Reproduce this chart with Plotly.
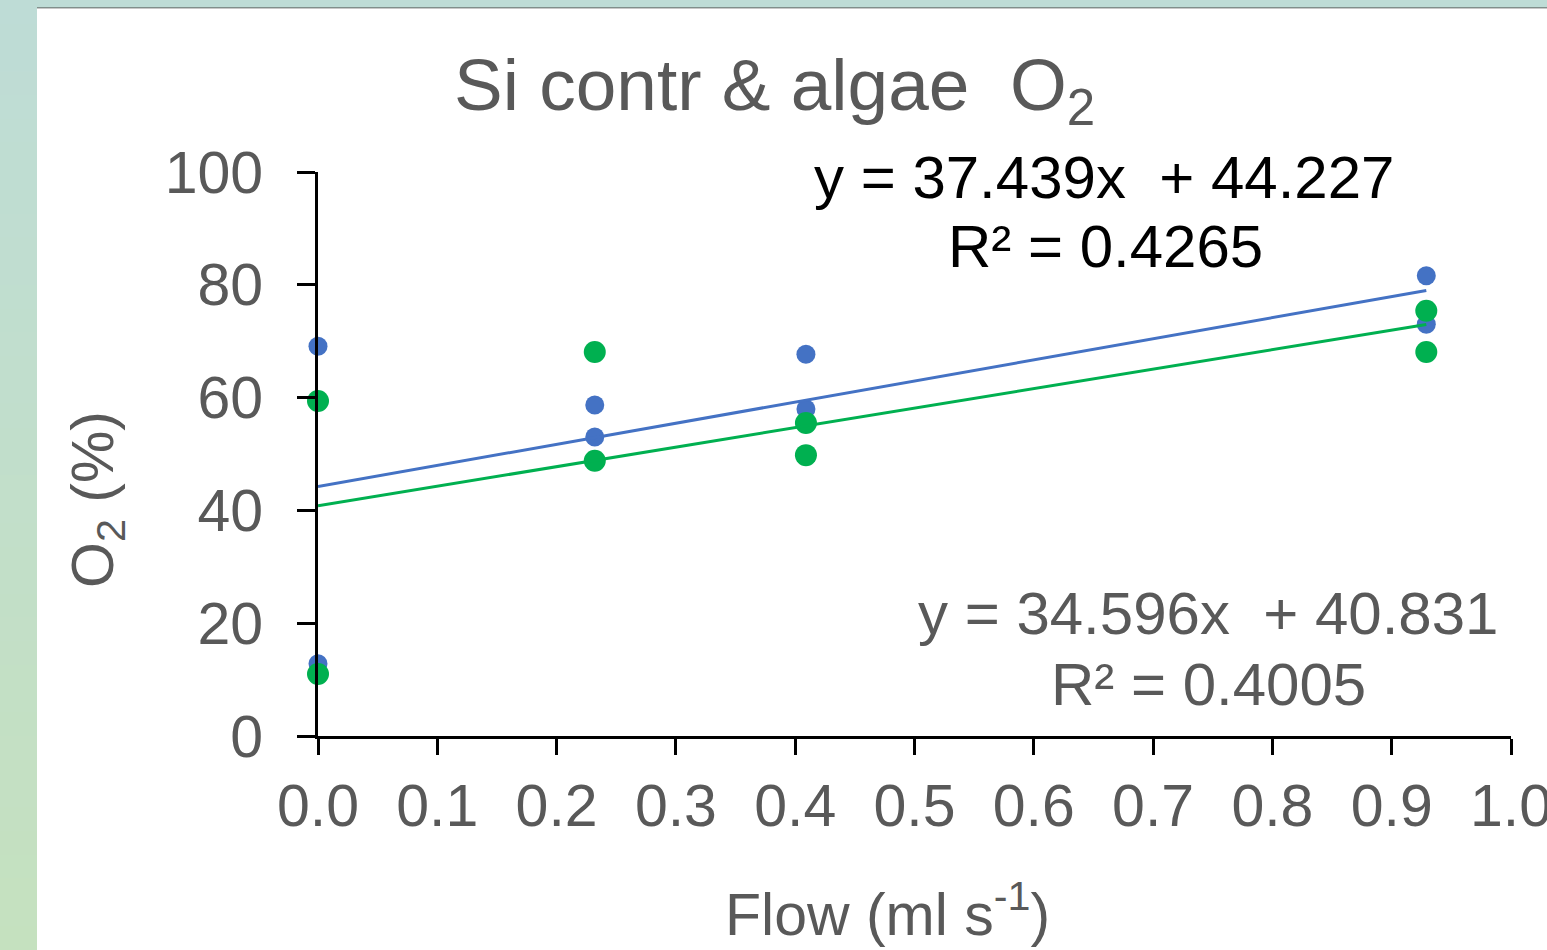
import plotly.graph_objects as go

# ---- data ----
flow_blue = [0.0, 0.0, 0.232, 0.232, 0.409, 0.409, 0.929, 0.929]
o2_blue = [69.1, 12.8, 58.7, 53.0, 67.7, 58.0, 81.6, 73.0]
flow_green = [0.0, 0.0, 0.232, 0.232, 0.409, 0.409, 0.929, 0.929]
o2_green = [59.4, 11.0, 68.1, 48.8, 55.5, 49.8, 75.4, 68.1]

trend_slope = [37.439, 34.596]
trend_intercept = [44.227, 40.831]
trend_r2 = [0.4265, 0.4005]
trend_x_range = [0.0, 0.929]

x_ticks = [0.0, 0.1, 0.2, 0.3, 0.4, 0.5, 0.6, 0.7, 0.8, 0.9, 1.0]
y_ticks = [0, 20, 40, 60, 80, 100]

BLUE = "#4472C4"
GREEN = "#00B050"
GRAY = "#595959"
FONT = "Liberation Sans, Arial, sans-serif"

W, H = 1547, 950
L, R, T, B = 318, 1511, 172, 736  # plot area in pixels


def px(x):
    return (x - L) / (R - L)


def py(y):
    return (B - y) / (B - T)


fig = go.Figure()

fig.add_trace(go.Scatter(x=flow_blue, y=o2_blue, mode="markers",
                         marker=dict(color=BLUE, size=19), cliponaxis=False,
                         showlegend=False, hoverinfo="skip"))
fig.add_trace(go.Scatter(x=flow_green, y=o2_green, mode="markers",
                         marker=dict(color=GREEN, size=22), cliponaxis=False,
                         showlegend=False, hoverinfo="skip"))
for m, c, col in zip(trend_slope, trend_intercept, [BLUE, GREEN]):
    fig.add_trace(go.Scatter(x=trend_x_range, y=[m * x + c for x in trend_x_range],
                             mode="lines", line=dict(color=col, width=3),
                             cliponaxis=False, showlegend=False, hoverinfo="skip"))

shapes = []
# left gradient strip
n = 40
c0 = (190, 220, 214)
c1 = (197, 225, 191)
for i in range(n):
    t = i / (n - 1)
    col = "rgb(%d,%d,%d)" % tuple(round(a + (b - a) * t) for a, b in zip(c0, c1))
    y0 = H * i / n
    y1 = H * (i + 1) / n + 1
    shapes.append(dict(type="rect", xref="paper", yref="paper",
                       x0=px(0), x1=px(37), y0=py(y1), y1=py(y0),
                       fillcolor=col, line=dict(width=0), layer="below"))
# top strip
shapes.append(dict(type="rect", xref="paper", yref="paper",
                   x0=px(37), x1=px(W), y0=py(7), y1=py(0),
                   fillcolor="rgb(190,220,214)", line=dict(width=0), layer="below"))
shapes.append(dict(type="rect", xref="paper", yref="paper",
                   x0=px(37), x1=px(W), y0=py(8), y1=py(7),
                   fillcolor="rgb(128,143,139)", line=dict(width=0), layer="below"))
shapes.append(dict(type="rect", xref="paper", yref="paper",
                   x0=px(37), x1=px(W), y0=py(9), y1=py(8),
                   fillcolor="rgb(200,200,200)", line=dict(width=0), layer="below"))

annotations = [
    dict(text="y = %.3fx  + %.3f" % (trend_slope[0], trend_intercept[0]),
         x=px(1104), y=py(178), xref="paper", yref="paper", showarrow=False,
         font=dict(family=FONT, size=60, color="black"), xanchor="center", yanchor="middle"),
    dict(text="R² = %.4f" % trend_r2[0],
         x=px(1105), y=py(246), xref="paper", yref="paper", showarrow=False,
         font=dict(family=FONT, size=60, color="black"), xanchor="center", yanchor="middle"),
    dict(text="y = %.3fx  + %.3f" % (trend_slope[1], trend_intercept[1]),
         x=px(1208), y=py(613), xref="paper", yref="paper", showarrow=False,
         font=dict(family=FONT, size=60, color=GRAY), xanchor="center", yanchor="middle"),
    dict(text="R² = %.4f" % trend_r2[1],
         x=px(1208), y=py(684), xref="paper", yref="paper", showarrow=False,
         font=dict(family=FONT, size=60, color=GRAY), xanchor="center", yanchor="middle"),
    dict(text="Si contr & algae  O<sub>2</sub>",
         x=px(774), y=py(90), xref="paper", yref="paper", showarrow=False,
         font=dict(family=FONT, size=73, color=GRAY), xanchor="center", yanchor="middle"),
    dict(text="Flow (ml s<sup>-1</sup>)",
         x=px(887), y=py(910), xref="paper", yref="paper", showarrow=False,
         font=dict(family=FONT, size=59, color=GRAY), xanchor="center", yanchor="middle"),
    dict(text="O<sub>2</sub> (%)", textangle=-90,
         x=px(97), y=py(500), xref="paper", yref="paper", showarrow=False,
         font=dict(family=FONT, size=59, color=GRAY), xanchor="center", yanchor="middle"),
]

fig.update_layout(
    width=W, height=H, autosize=False,
    margin=dict(l=L, r=W - R, t=T, b=H - B, pad=0, autoexpand=False),
    paper_bgcolor="white", plot_bgcolor="rgba(0,0,0,0)",
    shapes=shapes, annotations=annotations,
    font=dict(family=FONT, color=GRAY),
    xaxis=dict(range=[0, 1], tickvals=x_ticks, ticktext=["%.1f" % v for v in x_ticks],
               showline=True, linecolor="black", linewidth=3,
               ticks="outside", ticklen=16, tickwidth=3, tickcolor="black",
               showgrid=False, zeroline=False, ticklabeloverflow="allow",
               automargin=False,
               tickfont=dict(family=FONT, size=59, color=GRAY)),
    yaxis=dict(range=[0, 100], tickvals=y_ticks,
               showline=True, linecolor="black", linewidth=3,
               ticks="outside", ticklen=18, tickwidth=3, tickcolor="black",
               showgrid=False, zeroline=False, ticklabelstandoff=22,
               automargin=False,
               tickfont=dict(family=FONT, size=59, color=GRAY)),
)

fig.write_html("out.html", config={"displayModeBar": False},
               post_script="document.body.style.margin='0';document.body.style.overflow='hidden';")
